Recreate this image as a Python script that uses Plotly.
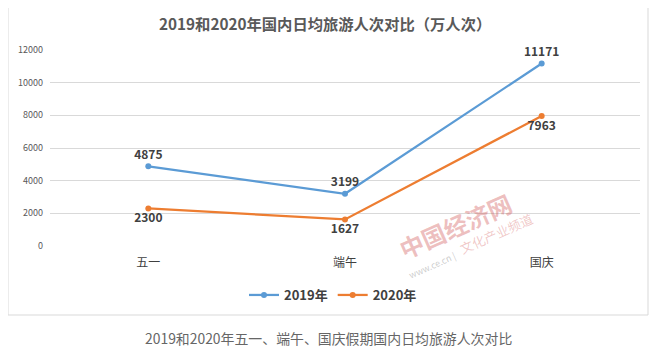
import plotly.graph_objects as go

categories = ["五一", "端午", "国庆"]
values_2019 = [4875, 3199, 11171]
values_2020 = [2300, 1627, 7963]
y_ticks = [0, 2000, 4000, 6000, 8000, 10000, 12000]

W, H = 657, 362
OFF = 8  # page body margin
def px(x): return (x - OFF) / W
def py(y): return 1 - (y - OFF) / H

FONT = "Noto Sans CJK SC, Microsoft YaHei, sans-serif"

fig = go.Figure()
fig.add_trace(go.Scatter(
    x=categories, y=values_2019, name="2019年",
    mode="lines+markers+text", cliponaxis=False,
    line=dict(color="#5b9bd5", width=2.25),
    marker=dict(color="#5b9bd5", size=6),
    text=[str(v) for v in values_2019], textposition="top center",
    textfont=dict(family=FONT, size=12, color="#404040", weight="bold"),
))
fig.add_trace(go.Scatter(
    x=categories, y=values_2020, name="2020年",
    mode="lines+markers+text", cliponaxis=False,
    line=dict(color="#ed7d31", width=2.25),
    marker=dict(color="#ed7d31", size=6),
    text=[str(v) for v in values_2020], textposition="bottom center",
    textfont=dict(family=FONT, size=12, color="#404040", weight="bold"),
))

fig.update_layout(
    width=W, height=H,
    margin=dict(l=0, r=0, t=0, b=0, autoexpand=False),
    paper_bgcolor="white", plot_bgcolor="white",
    font=dict(family=FONT),
    xaxis=dict(domain=[px(50), px(640)], range=[-0.5, 2.5], showgrid=False,
               zeroline=False, automargin=False,
               showline=False, ticks="", ticklabelstandoff=8,
               tickfont=dict(size=12, color="#404040")),
    yaxis=dict(domain=[py(246), py(50)], range=[0, 12000], automargin=False,
               tickvals=y_ticks, ticktext=[str(v) for v in y_ticks],
               showgrid=True, gridcolor="#d9d9d9", gridwidth=1,
               zeroline=False, showline=False, ticks="",
               ticklabelstandoff=6,
               tickfont=dict(size=9, color="#595959")),
    legend=dict(orientation="h", x=px(333), xanchor="center", y=py(295),
                yanchor="middle", font=dict(size=13, color="#404040", weight="bold"),
                itemwidth=30, bgcolor="rgba(0,0,0,0)"),
    showlegend=True,
)

fig.add_shape(type="rect", xref="paper", yref="paper",
              x0=px(8), x1=px(648), y0=py(315), y1=py(7),
              line=dict(color="#d9d9d9", width=1), layer="below")

fig.add_annotation(text="2019和2020年国内日均旅游人次对比（万人次）",
                   xref="paper", yref="paper", x=px(325), y=py(23),
                   xanchor="center", yanchor="middle",
                   showarrow=False, font=dict(size=15.3, color="#595959", weight="bold"))
fig.add_annotation(text="2019和2020年五一、端午、国庆假期国内日均旅游人次对比",
                   xref="paper", yref="paper", x=px(328), y=py(338),
                   xanchor="center", yanchor="middle",
                   showarrow=False, font=dict(size=13.9, color="#666666"))

# watermark
fig.add_annotation(text="中国经济网", xref="paper", yref="paper", x=px(455), y=py(225),
                   xanchor="center", yanchor="middle",
                   showarrow=False, textangle=-24,
                   font=dict(size=24, color="rgba(205,70,70,0.35)", weight="bold"))
fig.add_annotation(text="文化产业频道", xref="paper", yref="paper", x=px(496), y=py(233),
                   xanchor="center", yanchor="middle",
                   showarrow=False, textangle=-24,
                   font=dict(size=13, color="rgba(205,70,70,0.3)"))
fig.add_annotation(text="www.ce.cn |", xref="paper", yref="paper", x=px(432), y=py(265),
                   xanchor="center", yanchor="middle",
                   showarrow=False, textangle=-24,
                   font=dict(size=9, color="rgba(170,170,170,0.6)"))

fig.write_html("out.html")
